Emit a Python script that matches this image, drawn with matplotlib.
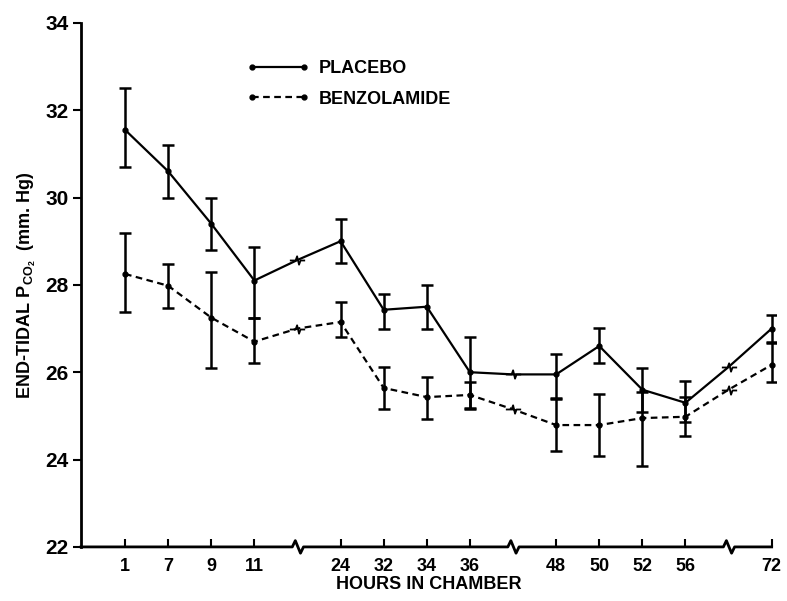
import numpy as np
import matplotlib
matplotlib.use("Agg")
import matplotlib.pyplot as plt
from matplotlib.path import Path
from matplotlib.transforms import blended_transform_factory

plt.rcParams['font.family'] = ['Liberation Sans', 'DejaVu Sans']
plt.rcParams['font.weight'] = 'bold'
plt.rcParams['axes.labelweight'] = 'bold'

# hours; "" marks a break in the time axis (a point is still drawn there)
hours = ["1", "7", "9", "11", "", "24", "32", "34", "36", "", "48", "50", "52", "56", "", "72"]

placebo = [31.55, 30.6, 29.4, 28.1, 28.57, 29.0, 27.43, 27.5, 26.0, 25.95,
           25.95, 26.6, 25.6, 25.3, 26.12, 27.0]
placebo_lo = [0.85, 0.6, 0.6, 0.85, 0, 0.5, 0.45, 0.5, 0.85, 0,
              0.55, 0.4, 0.5, 0.45, 0, 0.3]
placebo_hi = [0.95, 0.6, 0.6, 0.77, 0, 0.5, 0.37, 0.5, 0.8, 0,
              0.47, 0.42, 0.5, 0.5, 0, 0.3]

benzolamide = [28.25, 27.98, 27.25, 26.7, 27.0, 27.15, 25.64, 25.43, 25.48, 25.15,
               24.79, 24.79, 24.95, 24.98, 25.6, 26.17]
benz_lo = [0.87, 0.5, 1.15, 0.5, 0, 0.35, 0.48, 0.5, 0.3, 0,
           0.6, 0.7, 1.1, 0.45, 0, 0.4]
benz_hi = [0.93, 0.5, 1.05, 0.55, 0, 0.45, 0.48, 0.46, 0.3, 0,
           0.6, 0.7, 0.6, 0.45, 0, 0.5]

x = np.arange(len(hours))
real = np.array([h != "" for h in hours])
brk = x[~real]

fig = plt.figure(figsize=(7.87, 6.01), dpi=100)
ax = fig.add_axes([0.103, 0.09, 0.883, 0.872])

# zigzag marker used where the line crosses a time break
zig = Path([(-1, 0), (-0.25, 0), (-0.05, 0.55), (0.2, -0.55), (0.4, 0), (1, 0)])

for vals, lo, hi, ls, lab in [(placebo, placebo_lo, placebo_hi, '-', 'PLACEBO'),
                              (benzolamide, benz_lo, benz_hi, (0, (3, 2)), 'BENZOLAMIDE')]:
    vals = np.array(vals)
    ax.plot(x, vals, color='k', lw=1.6, ls=ls, marker='o', ms=3.5,
            markevery=list(np.where(real)[0]), label=lab)
    ax.plot(brk, vals[~real], ls='none', marker=zig, ms=11, mfc='none',
            mec='k', mew=1.3)
    ax.errorbar(x[real], vals[real],
                yerr=[np.array(lo)[real], np.array(hi)[real]],
                fmt='none', ecolor='k', elinewidth=1.8, capsize=4, capthick=1.8)

ax.set_ylim(22, 34)
ax.set_xlim(-1.02, 15.1)
ax.set_yticks([22, 24, 26, 28, 30, 32, 34])
ax.set_xticks(x[real])
ax.set_xticklabels([h for h in hours if h])
ax.tick_params(axis='y', direction='out', length=6, width=1.5, labelsize=15, pad=3)
ax.tick_params(axis='x', direction='in', length=6, width=1.5, labelsize=13, pad=8)

for s in ['top', 'right', 'bottom']:
    ax.spines[s].set_visible(False)
ax.spines['left'].set_linewidth(2)

# baseline with zigzag breaks
tr = blended_transform_factory(ax.transData, ax.transAxes)
bx, by = [-1.02], [0]
for b in brk:
    bx += [b - 0.12, b - 0.05, b + 0.07, b + 0.14]
    by += [0, 0.012, -0.012, 0]
bx.append(15)
by.append(0)
ax.plot(bx, by, color='k', lw=2, transform=tr, clip_on=False)

ax.set_xlabel("HOURS IN CHAMBER", fontsize=13, labelpad=1)
ax.set_ylabel(r"END-TIDAL P$_{\mathregular{CO_2}}$  (mm. Hg)", fontsize=13, labelpad=5)

ax.legend(loc='upper left', bbox_to_anchor=(0.215, 0.96), frameon=False,
          numpoints=2, handlelength=3.5, fontsize=13, labelspacing=0.75,
          handletextpad=0.5)

fig.savefig("out.png", dpi=100, facecolor='white')
